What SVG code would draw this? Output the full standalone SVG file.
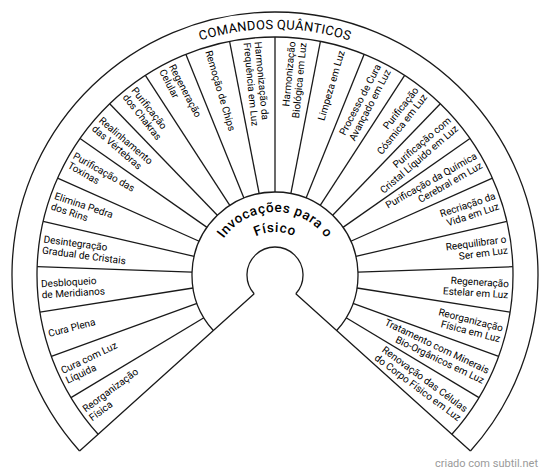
<svg xmlns="http://www.w3.org/2000/svg" width="550" height="475" viewBox="0 0 550 475">
<style>
.ln{fill:none;stroke:#1a1a1a;stroke-width:1.3}
.lb{font-family:Roboto,"Liberation Sans",sans-serif;font-size:10px;fill:#000}
.L{text-anchor:start}
.R{text-anchor:end}
.title{font-family:Roboto,"Liberation Sans",sans-serif;font-size:13px;fill:#000;letter-spacing:0.3px}
.inv{font-family:Roboto,"Liberation Sans",sans-serif;font-size:13.5px;font-weight:500;fill:#000;letter-spacing:0.6px}
.wm{font-family:Roboto,"Liberation Sans",sans-serif;font-size:11px;fill:#9a9a9a;text-anchor:end}
</style>
<defs>
<path id="tArc" d="M 32.74 232.29 A 246 246 0 0 1 517.26 232.29"/>
<path id="iArc1" d="M 212.95 264.06 A 63 63 0 0 1 337.05 264.06"/>
<path id="iArc2" d="M 232.65 267.53 A 43 43 0 0 1 317.35 267.53"/>
</defs>
<rect width="550" height="475" fill="#fff"/>
<g id="frame">
<path class="ln" d="M 79.55 450.98 A 263 263 0 1 1 470.45 450.98"/>
<path class="ln" d="M 98.13 434.25 A 238 238 0 1 1 451.87 434.25"/>
<path class="ln" d="M 213.32 330.54 A 83 83 0 1 1 336.68 330.54"/>
<path class="ln" d="M 254.19 293.74 A 28 28 0 1 1 295.81 293.74"/>
<path class="ln" d="M 254.19 293.74 L 79.55 450.98 M 295.81 293.74 L 470.45 450.98"/>
</g>
<g id="dividers" class="ln">
<line x1="275" y1="192" x2="275" y2="37" transform="rotate(-121 275 275)"/>
<line x1="275" y1="192" x2="275" y2="37" transform="rotate(-110 275 275)"/>
<line x1="275" y1="192" x2="275" y2="37" transform="rotate(-99 275 275)"/>
<line x1="275" y1="192" x2="275" y2="37" transform="rotate(-88 275 275)"/>
<line x1="275" y1="192" x2="275" y2="37" transform="rotate(-77 275 275)"/>
<line x1="275" y1="192" x2="275" y2="37" transform="rotate(-66 275 275)"/>
<line x1="275" y1="192" x2="275" y2="37" transform="rotate(-55 275 275)"/>
<line x1="275" y1="192" x2="275" y2="37" transform="rotate(-44 275 275)"/>
<line x1="275" y1="192" x2="275" y2="37" transform="rotate(-33 275 275)"/>
<line x1="275" y1="192" x2="275" y2="37" transform="rotate(-22 275 275)"/>
<line x1="275" y1="192" x2="275" y2="37" transform="rotate(-11 275 275)"/>
<line x1="275" y1="192" x2="275" y2="37"/>
<line x1="275" y1="192" x2="275" y2="37" transform="rotate(11 275 275)"/>
<line x1="275" y1="192" x2="275" y2="37" transform="rotate(22 275 275)"/>
<line x1="275" y1="192" x2="275" y2="37" transform="rotate(33 275 275)"/>
<line x1="275" y1="192" x2="275" y2="37" transform="rotate(44 275 275)"/>
<line x1="275" y1="192" x2="275" y2="37" transform="rotate(55 275 275)"/>
<line x1="275" y1="192" x2="275" y2="37" transform="rotate(66 275 275)"/>
<line x1="275" y1="192" x2="275" y2="37" transform="rotate(77 275 275)"/>
<line x1="275" y1="192" x2="275" y2="37" transform="rotate(88 275 275)"/>
<line x1="275" y1="192" x2="275" y2="37" transform="rotate(99 275 275)"/>
<line x1="275" y1="192" x2="275" y2="37" transform="rotate(110 275 275)"/>
<line x1="275" y1="192" x2="275" y2="37" transform="rotate(121 275 275)"/>
</g>
<g id="title"><text class="title"><textPath href="#tArc" startOffset="50%" text-anchor="middle">COMANDOS QUÂNTICOS</textPath></text></g>
<g id="center">
<text class="inv"><textPath href="#iArc1" startOffset="50%" text-anchor="middle">Invocações para o</textPath></text>
<text class="inv"><textPath href="#iArc2" startOffset="50%" text-anchor="middle">Físico</textPath></text>
</g>
<g id="s1" transform="translate(275 275) rotate(-36.5)"><text class="lb L" x="-234" y="-2">Reorganização<tspan x="-234" y="9">Física</tspan></text></g>
<g id="s2" transform="translate(275 275) rotate(-25.5)"><text class="lb L" x="-234" y="-2">Cura com Luz<tspan x="-234" y="9">Líquida</tspan></text></g>
<g id="s3" transform="translate(275 275) rotate(-14.5)"><text class="lb L" x="-234" y="3.5">Cura Plena</text></g>
<g id="s4" transform="translate(275 275) rotate(-3.5)"><text class="lb L" x="-234" y="-2">Desbloqueio<tspan x="-234" y="9">de Meridianos</tspan></text></g>
<g id="s5" transform="translate(275 275) rotate(7.5)"><text class="lb L" x="-234" y="-2">Desintegração<tspan x="-234" y="9">Gradual de Cristais</tspan></text></g>
<g id="s6" transform="translate(275 275) rotate(18.5)"><text class="lb L" x="-234" y="-2">Elimina Pedra<tspan x="-234" y="9">dos Rins</tspan></text></g>
<g id="s7" transform="translate(275 275) rotate(29.5)"><text class="lb L" x="-234" y="-2">Purificação das<tspan x="-234" y="9">Toxinas</tspan></text></g>
<g id="s8" transform="translate(275 275) rotate(40.5)"><text class="lb L" x="-234" y="-2">Realinhamento<tspan x="-234" y="9">das Vértebras</tspan></text></g>
<g id="s9" transform="translate(275 275) rotate(51.5)"><text class="lb L" x="-234" y="-2">Purificação<tspan x="-234" y="9">dos Chakras</tspan></text></g>
<g id="s10" transform="translate(275 275) rotate(62.5)"><text class="lb L" x="-234" y="-2">Regeneração<tspan x="-234" y="9">Celular</tspan></text></g>
<g id="s11" transform="translate(275 275) rotate(73.5)"><text class="lb L" x="-234" y="3.5">Remoção de Chips</text></g>
<g id="s12" transform="translate(275 275) rotate(84.5)"><text class="lb L" x="-234" y="-2">Harmonização da<tspan x="-234" y="9">Frequência em Luz</tspan></text></g>
<g id="s13" transform="translate(275 275) rotate(-84.5)"><text class="lb R" x="234" y="-2">Harmonização<tspan x="234" y="9">Biológica em Luz</tspan></text></g>
<g id="s14" transform="translate(275 275) rotate(-73.5)"><text class="lb R" x="234" y="3.5">Limpeza em Luz</text></g>
<g id="s15" transform="translate(275 275) rotate(-62.5)"><text class="lb R" x="234" y="-2">Processo de Cura<tspan x="234" y="9">Avançado em Luz</tspan></text></g>
<g id="s16" transform="translate(275 275) rotate(-51.5)"><text class="lb R" x="234" y="-2">Purificação<tspan x="234" y="9">Cósmica em Luz</tspan></text></g>
<g id="s17" transform="translate(275 275) rotate(-40.5)"><text class="lb R" x="234" y="-2">Purificação com<tspan x="234" y="9">Cristal Líquido em Luz</tspan></text></g>
<g id="s18" transform="translate(275 275) rotate(-29.5)"><text class="lb R" x="234" y="-2">Purificação da Química<tspan x="234" y="9">Cerebral em Luz</tspan></text></g>
<g id="s19" transform="translate(275 275) rotate(-18.5)"><text class="lb R" x="234" y="-2">Recriação da<tspan x="234" y="9">Vida em Luz</tspan></text></g>
<g id="s20" transform="translate(275 275) rotate(-7.5)"><text class="lb R" x="234" y="-2">Reequilibrar o<tspan x="234" y="9">Ser em Luz</tspan></text></g>
<g id="s21" transform="translate(275 275) rotate(3.5)"><text class="lb R" x="234" y="-2">Regeneração<tspan x="234" y="9">Estelar em Luz</tspan></text></g>
<g id="s22" transform="translate(275 275) rotate(14.5)"><text class="lb R" x="234" y="-2">Reorganização<tspan x="234" y="9">Física em Luz</tspan></text></g>
<g id="s23" transform="translate(275 275) rotate(25.5)"><text class="lb R" x="234" y="-2">Tratamento com Minerais<tspan x="234" y="9">Bio-Orgânicos em Luz</tspan></text></g>
<g id="s24" transform="translate(275 275) rotate(36.5)"><text class="lb R" x="234" y="-2">Renovação das Células<tspan x="234" y="9">do Corpo Físico em Luz</tspan></text></g>
<text class="wm" x="538" y="467">criado com subtil.net</text>
</svg>
